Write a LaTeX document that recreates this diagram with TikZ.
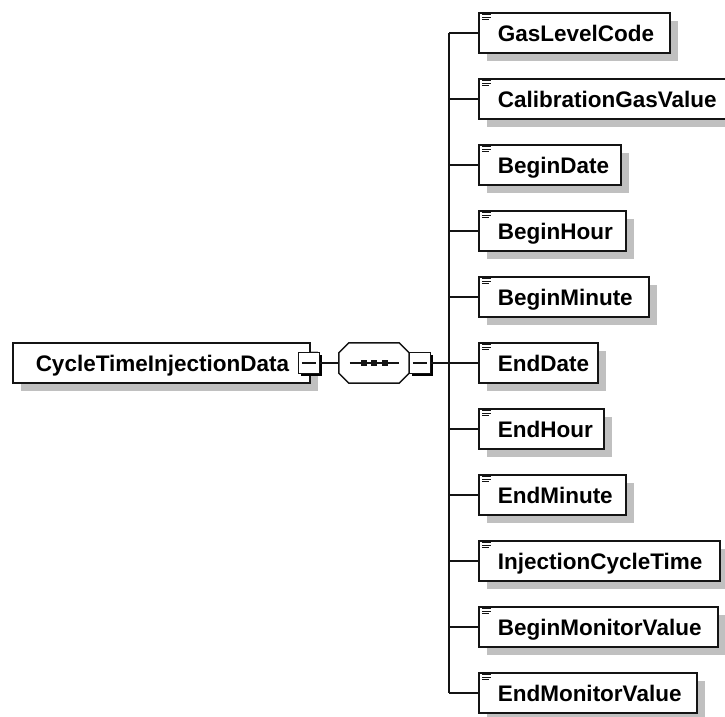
\documentclass[tikz,border=0pt]{standalone}
\usepackage{fontspec}
\setmainfont{Liberation Sans}
\usetikzlibrary{shadows}
\definecolor{shadowgray}{RGB}{192,192,192}
\definecolor{edge}{RGB}{20,20,20}
\newcommand{\elmlabel}[3]{\makebox[#1pt][l]{\hspace{#2pt}#3}}
\begin{document}
\begin{tikzpicture}[x=1pt,y=-1pt,
  elem/.style={draw=edge, line width=1.5pt, fill=white, minimum height=40pt,
    inner xsep=0pt, inner ysep=0pt, anchor=west,
    font=\bfseries\fontsize{22.5}{26}\selectfont, text height=16pt, text depth=0pt,
    drop shadow={shadow xshift=8pt, shadow yshift=-8pt, fill=shadowgray, opacity=1}},
  msq/.style={draw=edge, line width=1.3pt, fill=white, minimum size=21pt, inner sep=0pt,
    drop shadow={shadow xshift=2pt, shadow yshift=-2pt, fill=black, opacity=1}},
  conn/.style={draw=edge, line width=1.5pt},
  icon/.style={draw=edge, line width=1.3pt},
  octo/.style={draw=edge, line width=1.5pt, fill=white},
  octoshadow/.style={fill=shadowgray, draw=none}]
\useasboundingbox (0,0) rectangle (725,716);

% root element
\node[elem] (root) at (12,363) {\elmlabel{297}{23}{CycleTimeInjectionData}};
\node[msq] (rootm) at (309,363) {};
\draw[conn, line width=1.2pt] ([xshift=4pt]rootm.west) -- ([xshift=-4pt]rootm.east);

% sequence compositor
\node[minimum width=70pt, minimum height=40pt, inner sep=0pt] (seq) at (374,363) {};
\begin{scope}[shift={(8,8)}]
\fill[octoshadow] ([xshift=10pt]seq.north west) -- ([xshift=-10pt]seq.north east)
  -- ([yshift=-10pt]seq.north east) -- ([yshift=10pt]seq.south east)
  -- ([xshift=-10pt]seq.south east) -- ([xshift=10pt]seq.south west)
  -- ([yshift=10pt]seq.south west) -- ([yshift=-10pt]seq.north west) -- cycle;
\end{scope}
\path[octo] ([xshift=10pt]seq.north west) -- ([xshift=-10pt]seq.north east)
  -- ([yshift=-10pt]seq.north east) -- ([yshift=10pt]seq.south east)
  -- ([xshift=-10pt]seq.south east) -- ([xshift=10pt]seq.south west)
  -- ([yshift=10pt]seq.south west) -- ([yshift=-10pt]seq.north west) -- cycle;
\draw[conn] ([xshift=11pt]seq.west) -- ([xshift=-10pt]seq.east);
\foreach \dx in {-10,0,11} {
  \fill[edge] ([xshift=\dx pt]seq.center) ++(-2.6,-2.6) rectangle ++(5.2,5.2);
}
\node[msq] (seqm) at (420,363) {};
\draw[conn, line width=1.2pt] ([xshift=4pt]seqm.west) -- ([xshift=-4pt]seqm.east);

% children
\foreach \i/\yy/\w/\t in {
  1/33/191/GasLevelCode,
  2/99/252/CalibrationGasValue,
  3/165/142/BeginDate,
  4/231/147/BeginHour,
  5/297/170/BeginMinute,
  6/363/119/EndDate,
  7/429/125/EndHour,
  8/495/147/EndMinute,
  9/561/241/InjectionCycleTime,
  10/627/239/BeginMonitorValue,
  11/693/218/EndMonitorValue} {
  \node[elem] (c\i) at (478,\yy) {\elmlabel{\w}{19}{\t}};
  \draw[icon] ([xshift=4pt,yshift=-2.5pt]c\i.north west) -- ++(9,0);
  \draw[icon] ([xshift=4pt,yshift=-5pt]c\i.north west) -- ++(9,0);
  \draw[icon] ([xshift=4pt,yshift=-7.5pt]c\i.north west) -- ++(7,0);
}

% connectors
\coordinate (bus) at (449,363);
\draw[conn] (rootm.east) -- (seq.west);
\draw[conn] (seqm.east) -- (bus);
\draw[conn] (bus |- c1.west) -- (bus |- c11.west);
\foreach \i in {1,...,11} {
  \draw[conn] (bus |- c\i.west) -- (c\i.west);
}
\end{tikzpicture}
\end{document}
